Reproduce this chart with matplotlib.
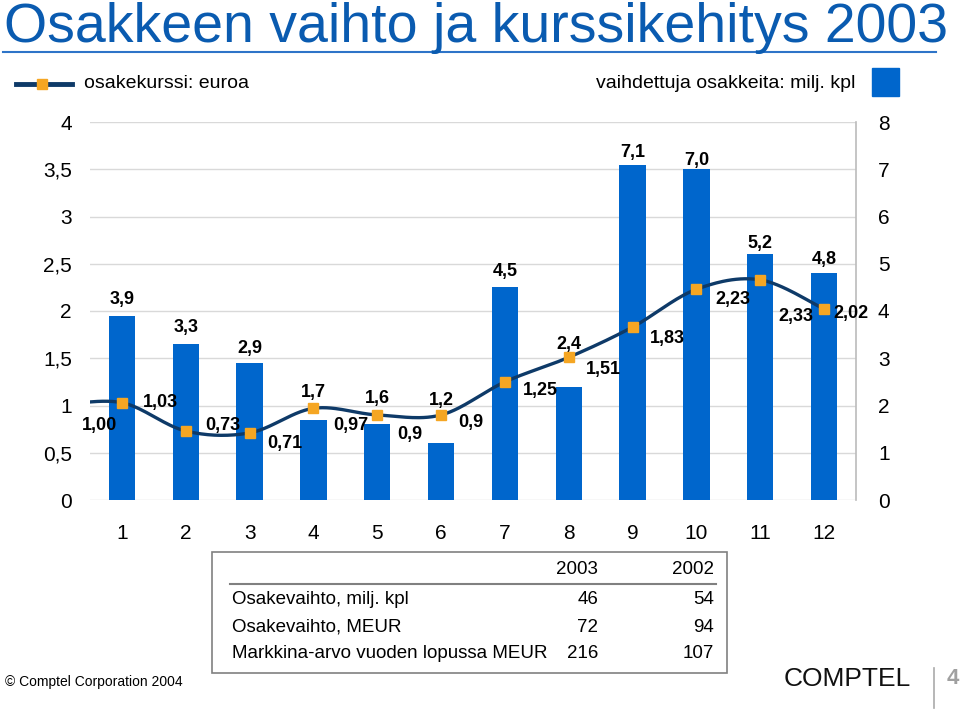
import numpy as np
import matplotlib
matplotlib.use("Agg")
import matplotlib.pyplot as plt
from matplotlib.lines import Line2D
from matplotlib.patches import Rectangle

# ---------------- data ----------------
months = [1, 2, 3, 4, 5, 6, 7, 8, 9, 10, 11, 12]
volume = [3.9, 3.3, 2.9, 1.7, 1.6, 1.2, 4.5, 2.4, 7.1, 7.0, 5.2, 4.8]  # milj. kpl
price_x = [0, 1, 2, 3, 4, 5, 6, 7, 8, 9, 10, 11, 12]
price = [1.00, 1.03, 0.73, 0.71, 0.97, 0.90, 0.90, 1.25, 1.51, 1.83, 2.23, 2.33, 2.02]
price_labels = ["1,00", "1,03", "0,73", "0,71", "0,97", "0,9", "0,9",
                "1,25", "1,51", "1,83", "2,23", "2,33", "2,02"]
left_ticks = [0, 0.5, 1, 1.5, 2, 2.5, 3, 3.5, 4]
left_ticklabels = ["0", "0,5", "1", "1,5", "2", "2,5", "3", "3,5", "4"]
right_ticks = [0, 1, 2, 3, 4, 5, 6, 7, 8]

table_header = ["2003", "2002"]
table_rows = ["Osakevaihto, milj. kpl", "Osakevaihto, MEUR",
              "Markkina-arvo vuoden lopussa MEUR"]
table_2003 = ["46", "72", "216"]
table_2002 = ["54", "94", "107"]

# label offsets in pixels (style only)
price_label_offsets = [(41, -20), (39, 0), (37, 6), (35, -11), (37, -17), (33, -20),
                       (30, -8), (35, -9), (35, -12), (35, -11), (36, -10),
                       (36, -37), (27, -4)]
bar_label_offsets = [16, 17, 14, 27, 26, 43, 16, 42, 12, 9, 11, 14]

# ---------------- style ----------------
plt.rcParams['font.family'] = ['Liberation Sans', 'DejaVu Sans']
BAR = "#0066CC"
LINE = "#0E3A68"
MARK = "#F5A623"
TITLE = "#0A5BB0"
GRID = "#D9D9D9"

W, H = 960, 709
fig = plt.figure(figsize=(W / 100, H / 100), dpi=100)


def fx(px):
    return px / W


def fy(py):
    return 1 - py / H


# axes
L, R, T, B = 90, 856, 122, 500
ax = fig.add_axes([fx(L), fy(B), fx(R - L), (B - T) / H])
ax2 = ax.twinx()

# bars on ax (right scale)
bars = ax.bar(months, volume, width=0.41, color=BAR, zorder=2)
for m, v, off in zip(months, volume, bar_label_offsets):
    ax.annotate(f"{v:.1f}".replace('.', ','), (m, v), xytext=(0, off),
                textcoords='offset pixels', ha='center', va='center',
                fontsize=13, fontweight='bold', color='black', zorder=6)
ax.set_xlim(0.5, 12.5)
ax.set_ylim(0, 8)
ax.set_yticks(right_ticks)
ax.yaxis.tick_right()
ax.yaxis.set_label_position('right')
ax.set_yticklabels([str(t) for t in right_ticks], fontsize=15)
ax.tick_params(axis='y', length=0, pad=20)
for lab in ax.get_yticklabels():
    lab.set_horizontalalignment('center')
ax.set_xticks(months)
ax.set_xticklabels([str(m) for m in months], fontsize=15)
ax.tick_params(axis='x', length=0, pad=17)
ax.grid(axis='y', color=GRID, lw=1, zorder=0)
ax.set_axisbelow(True)
for s in ['top', 'left', 'bottom']:
    ax.spines[s].set_visible(False)
ax.spines['right'].set_color('#BBBBBB')
ax.spines['right'].set_linewidth(1.2)

# smooth line on ax2 (left scale)
px = np.array(price_x, dtype=float)
py = np.array(price, dtype=float)
n = len(px)
cx, cy = [], []
t = np.linspace(0, 1, 30)
for i in range(n - 1):
    p0x, p0y = px[max(i - 1, 0)], py[max(i - 1, 0)]
    p1x, p1y = px[i], py[i]
    p2x, p2y = px[i + 1], py[i + 1]
    p3x, p3y = px[min(i + 2, n - 1)], py[min(i + 2, n - 1)]
    c1x, c1y = p1x + (p2x - p0x) / 6, p1y + (p2y - p0y) / 6
    c2x, c2y = p2x - (p3x - p1x) / 6, p2y - (p3y - p1y) / 6
    bx = (1 - t) ** 3 * p1x + 3 * (1 - t) ** 2 * t * c1x + 3 * (1 - t) * t ** 2 * c2x + t ** 3 * p2x
    by = (1 - t) ** 3 * p1y + 3 * (1 - t) ** 2 * t * c1y + 3 * (1 - t) * t ** 2 * c2y + t ** 3 * p2y
    cx.extend(bx)
    cy.extend(by)
ax2.plot(cx, cy, color=LINE, lw=2.4, zorder=3, solid_capstyle='butt')
ax2.plot(px[1:], py[1:], ls='none', marker='s', ms=6.5, mfc=MARK, mec=MARK, zorder=4)
for xv, yv, lab, (dx, dy) in zip(price_x, price, price_labels, price_label_offsets):
    ax2.annotate(lab, (xv, yv), xytext=(dx, dy), textcoords='offset pixels',
                 ha='center', va='center', fontsize=13, fontweight='bold',
                 annotation_clip=False, zorder=5)
ax2.set_ylim(0, 4)
ax2.set_xlim(0.5, 12.5)
ax2.set_yticks(left_ticks)
ax2.yaxis.tick_left()
ax2.set_yticklabels(left_ticklabels, fontsize=15)
ax2.tick_params(axis='y', length=0, pad=13)
for s in ['top', 'left', 'bottom', 'right']:
    ax2.spines[s].set_visible(False)

# ---------------- title ----------------
fig.text(fx(4), fy(42), "Osakkeen vaihto ja kurssikehitys 2003", fontsize=40,
         color=TITLE, ha='left', va='baseline')
fig.add_artist(Line2D([fx(3), fx(936)], [fy(52), fy(52)], color="#2E74C8", lw=1.5))

# ---------------- legends ----------------
fig.add_artist(Line2D([fx(16), fx(72)], [fy(84), fy(84)], color=LINE, lw=3.5))
fig.add_artist(Line2D([fx(42)], [fy(84)], marker='s', ms=6.5, mfc=MARK, mec=MARK, ls='none'))
fig.text(fx(84), fy(84), "osakekurssi: euroa", fontsize=14, ha='left', va='center')
fig.text(fx(855), fy(84), "vaihdettuja osakkeita: milj. kpl", fontsize=14,
         ha='right', va='center')
fig.add_artist(Rectangle((fx(872), fy(96)), fx(27), 28 / H, color=BAR,
                         transform=fig.transFigure))

# ---------------- table ----------------
fig.add_artist(Rectangle((fx(212), fy(673)), fx(515), 121 / H, fill=False,
                         ec='#808080', lw=1.2, transform=fig.transFigure))
fig.add_artist(Line2D([fx(230), fx(716)], [fy(584), fy(584)], color='#808080', lw=1.5))
fig.text(fx(598), fy(570), table_header[0], fontsize=13.5, ha='right', va='center')
fig.text(fx(714), fy(570), table_header[1], fontsize=13.5, ha='right', va='center')
row_y = [600, 627, 654]
for yv, lab, a, b in zip(row_y, table_rows, table_2003, table_2002):
    fig.text(fx(232), fy(yv), lab, fontsize=13.5, ha='left', va='center')
    fig.text(fx(598), fy(yv), a, fontsize=13.5, ha='right', va='center')
    fig.text(fx(714), fy(yv), b, fontsize=13.5, ha='right', va='center')

# ---------------- footer ----------------
fig.text(fx(5), fy(682), "\u00a9 Comptel Corporation 2004", fontsize=10,
         ha='left', va='center')
fig.text(fx(847), fy(679), "COMPTEL", fontsize=19, ha='center', va='center',
         color='#111111')
fig.add_artist(Line2D([fx(934), fx(934)], [fy(668), fy(708)], color='#AAAAAA', lw=1.2))
fig.text(fx(953), fy(678), "4", fontsize=16, fontweight='bold', ha='center',
         va='center', color='#A0A0A0')

fig.savefig("out.png", dpi=100)
